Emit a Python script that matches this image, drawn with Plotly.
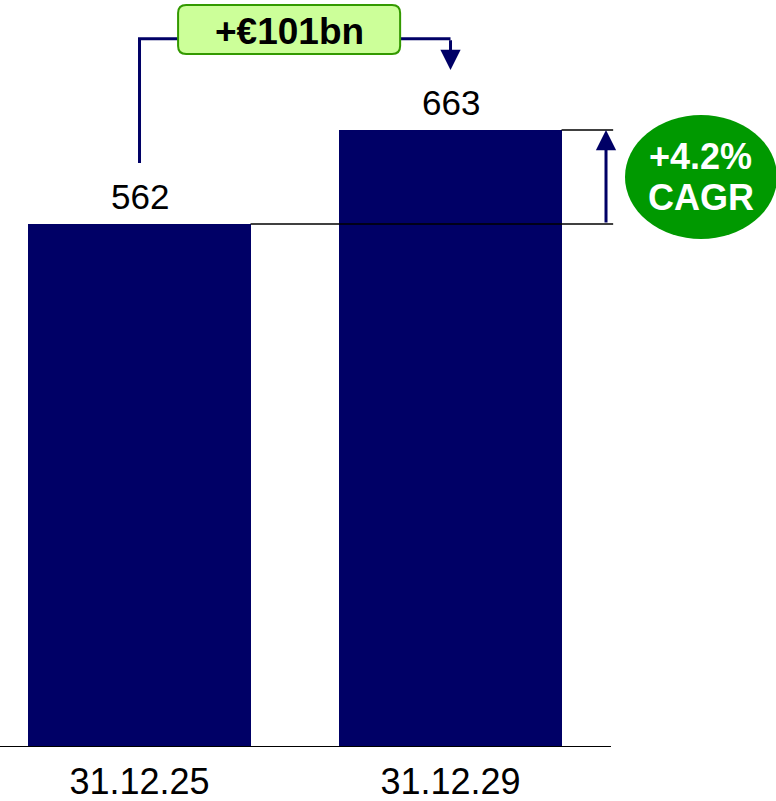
import plotly.graph_objects as go

categories = ["31.12.25", "31.12.29"]
values = [562, 663]
value_labels = ["562", "663"]
delta_label = "+€101bn"
cagr_lines = ["+4.2%", "CAGR"]

NAVY = "#000066"
FONT = "Liberation Sans"

xs = list(range(len(categories)))
bar_w = 0.714
xmin, xmax = -0.4486, 2.0466
ymax = 802.7
PX = 0.9306  # pixels per value unit (for placing decorations)


def py(pixel_y):
    """convert a reference pixel row (0 = top of page) to a y value"""
    return (747 - pixel_y) / PX


fig = go.Figure()
fig.add_trace(go.Bar(x=xs, y=values, width=bar_w, marker=dict(color=NAVY, line=dict(width=0)),
                     hoverinfo="skip"))

v1, v2 = values
right_x = 1.523
level = v2 + 98

shapes = []
shapes.append(dict(type="line", xref="x", yref="y", x0=xmin, x1=1.516, y0=0, y1=0,
                   line=dict(color="black", width=2), layer="above"))
shapes.append(dict(type="line", xref="x", yref="y", x0=xs[0] + bar_w / 2, x1=right_x, y0=v1, y1=v1,
                   line=dict(color="black", width=1.5), layer="above"))
shapes.append(dict(type="line", xref="x", yref="y", x0=xs[1] + bar_w / 2, x1=right_x, y0=v2, y1=v2,
                   line=dict(color="black", width=1.5), layer="above"))
shapes.append(dict(type="path", xref="x", yref="y",
                   path=f"M {xs[0]},{v1 + 65.5} V {level} H {xs[1]}",
                   line=dict(color=NAVY, width=3), layer="above"))
bx0, bx1, by0, by1 = 0.124, 0.838, py(54), py(5)
rx, ry = 0.026, 8.6
box_path = (f"M {bx0 + rx},{by0} L {bx1 - rx},{by0} Q {bx1},{by0} {bx1},{by0 + ry} "
            f"L {bx1},{by1 - ry} Q {bx1},{by1} {bx1 - rx},{by1} L {bx0 + rx},{by1} "
            f"Q {bx0},{by1} {bx0},{by1 - ry} L {bx0},{by0 + ry} Q {bx0},{by0} {bx0 + rx},{by0} Z")
shapes.append(dict(type="path", xref="x", yref="y", path=box_path,
                   fillcolor="#ccff99", line=dict(color="#339900", width=2), layer="above"))
shapes.append(dict(type="circle", xref="x", yref="y", x0=1.561, x1=2.05, y0=py(239), y1=py(115),
                   fillcolor="#009900", line=dict(width=0), layer="above"))

annotations = []
for x, v, t in zip(xs, values, value_labels):
    annotations.append(dict(x=x, y=v, xref="x", yref="y", text=t, showarrow=False,
                            yanchor="middle", yshift=28,
                            font=dict(family=FONT, size=35, color="black")))
annotations.append(dict(x=xs[1], y=v2 + 64.5, ax=xs[1], ay=level, xref="x", yref="y",
                        axref="x", ayref="y", text="", showarrow=True, arrowhead=2,
                        arrowsize=1.35, arrowwidth=3, arrowcolor=NAVY, standoff=0))
annotations.append(dict(x=1.5, y=v2, ax=1.5, ay=v1, xref="x", yref="y",
                        axref="x", ayref="y", text="", showarrow=True, arrowhead=2,
                        arrowsize=1.35, arrowwidth=3, arrowcolor=NAVY, standoff=0))
annotations.append(dict(x=(bx0 + bx1) / 2, y=py(32), xref="x", yref="y", text=f"<b>{delta_label}</b>",
                        showarrow=False, yanchor="middle",
                        font=dict(family=FONT, size=37, color="black")))
for line_text, pix in zip(cagr_lines, [157, 198]):
    annotations.append(dict(x=1.805, y=py(pix), xref="x", yref="y", text=f"<b>{line_text}</b>",
                            showarrow=False, yanchor="middle",
                            font=dict(family=FONT, size=36, color="white")))

fig.update_layout(
    width=776, height=801,
    margin=dict(l=0, r=0, t=0, b=54, pad=0),
    paper_bgcolor="white", plot_bgcolor="white",
    showlegend=False, bargap=0,
    shapes=shapes, annotations=annotations,
    xaxis=dict(range=[xmin, xmax], tickmode="array", tickvals=xs, ticktext=categories,
               showgrid=False, zeroline=False, showline=False, ticks="",
               ticklabelstandoff=10,
               tickfont=dict(family=FONT, size=36, color="black"), fixedrange=True),
    yaxis=dict(range=[0, ymax], visible=False, fixedrange=True),
)

fig.write_html("out.html", config={"displayModeBar": False},
               post_script="document.body.style.margin='0';document.body.style.overflow='hidden';")
